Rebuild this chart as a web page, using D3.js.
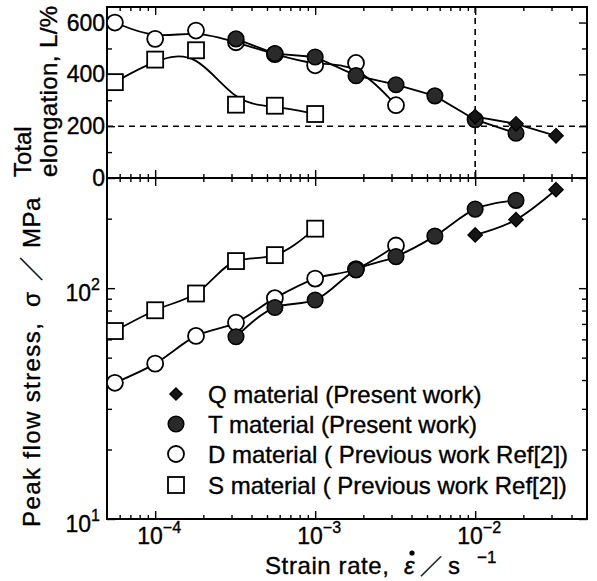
<!DOCTYPE html>
<html>
<head>
<meta charset="utf-8">
<script src="https://cdn.jsdelivr.net/npm/d3@7"></script>
<style>
body{margin:0;background:#fff;}
svg{font-family:"Liberation Sans",Arial,Helvetica,sans-serif;}
svg text{stroke:#000;stroke-width:0.35px;}
.cjk{font-family:"Noto Sans CJK JP","Noto Sans CJK SC",sans-serif;}
</style>
</head>
<body>
<div id="draw"></div>
<script>
// strain rate (s^-1) of every measured point
var rateQ = [1e-2, 1.8e-2, 3.2e-2];
var rateT = [3.2e-4, 5.6e-4, 1e-3, 1.8e-3, 3.2e-3, 5.6e-3, 1e-2, 1.8e-2];
var rateD = [5.6e-5, 1e-4, 1.8e-4, 3.2e-4, 5.6e-4, 1e-3, 1.8e-3, 3.2e-3];
var rateS = [5.6e-5, 1e-4, 1.8e-4, 3.2e-4, 5.6e-4, 1e-3];

// total elongation L (%)
var elongQ = [237, 209, 163];
var elongT = [537, 480, 467, 395, 360, 317, 225, 173];
var elongD = [600, 537, 569, 524, 478, 435, 444, 281];
var elongS = [370, 457, 493, 283, 279, 247];

// peak flow stress (MPa)
var stressQ = [170, 198, 267];
var stressT = [61.6, 82.4, 88.9, 120, 137, 168, 220, 240];
var stressD = [38.9, 47.1, 62.1, 70.9, 90.5, 110, 121, 153];
var stressS = [65.2, 80.2, 94.8, 131, 139, 181];

var legendLabels = [
    'Q material (Present work)',
    'T material (Present work)',
    'D material ( Previous work Ref[2])',
    'S material ( Previous work Ref[2])'
];

// axis ticks
var xMajor = [1e-4, 1e-3, 1e-2];
var xMajorExp = ['\u22124', '\u22123', '\u22122'];
var elongMajor = [0, 200, 400, 600];
var elongMinor = [100, 300, 500];
var stressMajor = [10, 100];
var stressMajorExp = ['1', '2'];
var stressMinor = [20, 30, 40, 50, 60, 70, 80, 90, 200];
// dashed guide lines in the upper panel
var elongLimit = 200;
var rateLimit = 1e-2;

window.onload = function(){
    var W = 597, H = 581;
    var svg = d3.select('#draw').append('svg').attr('width', W).attr('height', H);

    var L = 107, R = 587, T1 = 7, B1 = 178, B2 = 519;

    var x = d3.scaleLog().domain([5e-5, 5e-2]).range([L, R]);
    var yE = d3.scaleLinear().domain([0, 660]).range([B1, T1]);
    var yS = d3.scaleLog().domain([10, 300]).range([B2, B1]);

    // minor x ticks 2..9 of each decade inside the domain
    var xMinor = [];
    [1e-5, 1e-4, 1e-3, 1e-2].forEach(function(d){
        for (var k = 2; k <= 9; k++){
            var v = d * k;
            if (v > 5e-5 && v < 5e-2) xMinor.push(v);
        }
    });

    function drawTicks(g, axisFn, scale, vals, size){
        g.call(axisFn(scale).tickValues(vals).tickSize(size).tickFormat(''))
         .call(function(s){ s.select('.domain').remove(); })
         .selectAll('line').attr('stroke', '#000').attr('stroke-width', 1.4);
    }
    function at(tx, ty){ return svg.append('g').attr('transform', 'translate(' + tx + ',' + ty + ')'); }

    // ---------- ticks (all inward) ----------
    drawTicks(at(0, T1), d3.axisTop, x, xMajor, -8);
    drawTicks(at(0, T1), d3.axisTop, x, xMinor, -4);
    drawTicks(at(0, B1), d3.axisBottom, x, xMajor, -8);
    drawTicks(at(0, B1), d3.axisBottom, x, xMinor, -4);
    drawTicks(at(0, B1), d3.axisTop, x, xMajor, -8);
    drawTicks(at(0, B1), d3.axisTop, x, xMinor, -4);
    drawTicks(at(0, B2), d3.axisBottom, x, xMajor, -8);
    drawTicks(at(0, B2), d3.axisBottom, x, xMinor, -4);

    drawTicks(at(L, 0), d3.axisLeft, yE, elongMajor, -8);
    drawTicks(at(L, 0), d3.axisLeft, yE, elongMinor, -5);
    drawTicks(at(R, 0), d3.axisRight, yE, elongMajor, -8);
    drawTicks(at(R, 0), d3.axisRight, yE, elongMinor, -5);

    drawTicks(at(L, 0), d3.axisLeft, yS, stressMajor, -8);
    drawTicks(at(L, 0), d3.axisLeft, yS, stressMinor, -5);
    drawTicks(at(R, 0), d3.axisRight, yS, stressMajor, -8);
    drawTicks(at(R, 0), d3.axisRight, yS, stressMinor, -5);

    // ---------- frames ----------
    svg.append('rect').attr('x', L).attr('y', T1).attr('width', R - L).attr('height', B2 - T1)
        .attr('fill', 'none').attr('stroke', '#000').attr('stroke-width', 2);
    svg.append('line').attr('x1', L).attr('x2', R).attr('y1', B1).attr('y2', B1)
        .attr('stroke', '#000').attr('stroke-width', 2);

    // dashed guides
    svg.append('line').attr('x1', L).attr('x2', R).attr('y1', yE(elongLimit)).attr('y2', yE(elongLimit))
        .attr('stroke', '#000').attr('stroke-width', 1.6).attr('stroke-dasharray', '6,5');
    svg.append('line').attr('x1', x(rateLimit)).attr('x2', x(rateLimit)).attr('y1', T1).attr('y2', B1)
        .attr('stroke', '#000').attr('stroke-width', 1.6).attr('stroke-dasharray', '6,5');

    // ---------- tick labels ----------
    var fs = 23;
    elongMajor.forEach(function(v){
        svg.append('text').attr('x', L - 2).attr('y', yE(v) + 8).attr('text-anchor', 'end')
            .attr('font-size', fs).text(v);
    });
    stressMajor.forEach(function(v, i){
        var t = svg.append('text').attr('x', L - 7).attr('y', yS(v) + 13).attr('text-anchor', 'end')
            .attr('font-size', fs);
        t.append('tspan').text('10');
        t.append('tspan').attr('dy', -11).attr('font-size', 16).text(stressMajorExp[i]);
    });
    xMajor.forEach(function(v, i){
        var t = svg.append('text').attr('x', x(v) + 4).attr('y', 544).attr('text-anchor', 'middle')
            .attr('font-size', fs);
        t.append('tspan').text('10');
        t.append('tspan').attr('dy', -11).attr('font-size', 16).text(xMajorExp[i]);
    });

    // ---------- axis titles ----------
    var xt = svg.append('g').attr('font-size', 24);
    xt.append('text').attr('x', 265).attr('y', 574).attr('letter-spacing', 0.6).text('Strain rate,');
    xt.append('text').attr('x', 404).attr('y', 574).attr('font-style', 'italic').text('\u03b5');
    xt.append('circle').attr('cx', 412).attr('cy', 553).attr('r', 2.6).attr('fill', '#000');
    xt.append('text').attr('class', 'cjk').attr('x', 420).attr('y', 574).attr('font-size', 22).text('\uff0f');
    xt.append('text').attr('x', 448).attr('y', 574).text('s');
    xt.append('text').attr('x', 477).attr('y', 563).attr('font-size', 17).text('\u22121');

    svg.append('text').attr('transform', 'translate(31,177) rotate(-90)')
        .attr('font-size', 24).text('Total');
    svg.append('text').attr('transform', 'translate(57,177) rotate(-90)')
        .attr('font-size', 24).attr('letter-spacing', 0.4).text('elongation, L/%');

    var yt = [['Peak flow stress,', 527, 24, 1.4, 40, ''], ['\u03c3', 307, 24, 0, 40, ''],
              ['\uff0f', 281, 24, 0, 40, 'cjk'], ['MPa', 248, 24, 0.5, 40, '']];
    yt.forEach(function(p){
        svg.append('text').attr('class', p[5]).attr('transform', 'translate(' + p[4] + ',' + p[1] + ') rotate(-90)')
            .attr('font-size', p[2]).attr('letter-spacing', p[3]).text(p[0]);
    });

    // ---------- lines ----------
    function series(rates, vals){
        return rates.map(function(r, i){ return [r, vals[i]]; });
    }
    function drawLine(data, y, curve){
        var gen = d3.line().x(function(d){ return x(d[0]); }).y(function(d){ return y(d[1]); }).curve(curve);
        svg.append('path').attr('d', gen(data)).attr('fill', 'none')
            .attr('stroke', '#000').attr('stroke-width', 1.8);
    }
    var eS = series(rateS, elongS), eD = series(rateD, elongD), eT = series(rateT, elongT), eQ = series(rateQ, elongQ);
    var sS = series(rateS, stressS), sD = series(rateD, stressD), sT = series(rateT, stressT), sQ = series(rateQ, stressQ);

    drawLine(eS, yE, d3.curveBasis);
    drawLine(eD, yE, d3.curveBasis);
    drawLine(eT, yE, d3.curveLinear);
    drawLine(eQ, yE, d3.curveLinear);
    drawLine(sS, yS, d3.curveMonotoneX);
    drawLine(sD, yS, d3.curveMonotoneX);
    drawLine(sT, yS, d3.curveMonotoneX);
    drawLine(sQ, yS, d3.curveMonotoneX);

    // ---------- markers ----------
    function marker(g, type, cx, cy, s){
        s = s || 1;
        if (type === 'S'){
            g.append('rect').attr('x', cx - 8 * s).attr('y', cy - 8 * s)
                .attr('width', 16 * s).attr('height', 16 * s)
                .attr('fill', '#fff').attr('stroke', '#000').attr('stroke-width', 1.8);
        } else if (type === 'D'){
            g.append('circle').attr('cx', cx).attr('cy', cy).attr('r', 8 * s)
                .attr('fill', '#fff').attr('stroke', '#000').attr('stroke-width', 1.8);
        } else if (type === 'T'){
            g.append('circle').attr('cx', cx).attr('cy', cy).attr('r', 7.8 * s)
                .attr('fill', '#2a2a2a').attr('stroke', '#000').attr('stroke-width', 1.5);
        } else {
            var r = 7.2 * s;
            g.append('path').attr('d', 'M' + cx + ',' + (cy - r) + 'L' + (cx + r) + ',' + cy + 'L' + cx + ',' + (cy + r) + 'L' + (cx - r) + ',' + cy + 'Z')
                .attr('fill', '#151515').attr('stroke', '#000').attr('stroke-width', 1.3);
        }
    }
    var mg = svg.append('g');
    [['S', eS, yE], ['D', eD, yE], ['T', eT, yE], ['Q', eQ, yE],
     ['S', sS, yS], ['D', sD, yS], ['T', sT, yS], ['Q', sQ, yS]].forEach(function(s){
        s[1].forEach(function(d){ marker(mg, s[0], x(d[0]), s[2](d[1])); });
    });

    // ---------- legend ----------
    var lg = svg.append('g');
    var types = ['Q', 'T', 'D', 'S'];
    var rowY = [394, 424, 454, 485];
    types.forEach(function(t, i){
        marker(lg, t, 176, rowY[i], t === 'Q' ? 0.85 : 1);
        lg.append('text').attr('x', 208).attr('y', rowY[i] + 9).attr('font-size', 24)
            .style('white-space', 'pre').text(legendLabels[i]);
    });
};
</script>
</body>
</html>
